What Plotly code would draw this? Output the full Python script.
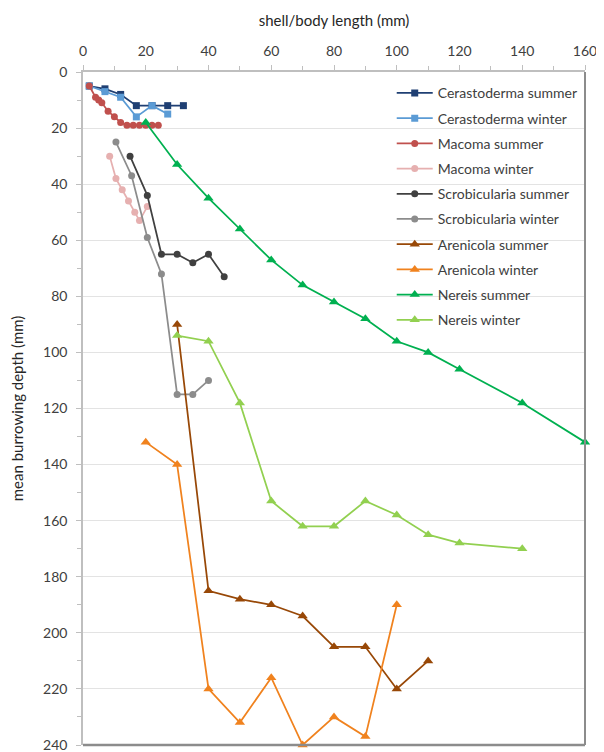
import plotly.graph_objects as go

# ---- data ----
cer_s_x = [2, 7, 12, 17, 22, 27, 32]
cer_s_y = [5, 6, 8, 12, 12, 12, 12]
cer_w_x = [2, 7, 12, 17, 22, 27]
cer_w_y = [5, 7, 9, 16, 12, 15]
mac_s_x = [2, 4, 5, 6, 8, 10, 12, 14, 16, 18, 20, 22, 24]
mac_s_y = [5, 9, 10, 11, 14, 16, 18, 19, 19, 19, 19, 19, 19]
mac_w_x = [8.5, 10.5, 12.5, 14.5, 16.5, 18, 20.5]
mac_w_y = [30, 38, 42, 46, 50, 53, 48]
scr_s_x = [15, 20.5, 25, 30, 35, 40, 45]
scr_s_y = [30, 44, 65, 65, 68, 65, 73]
scr_w_x = [10.5, 15.5, 20.5, 25, 30, 35, 40]
scr_w_y = [25, 37, 59, 72, 115, 115, 110]
are_s_x = [30, 40, 50, 60, 70, 80, 90, 100, 110]
are_s_y = [90, 185, 188, 190, 194, 205, 205, 220, 210]
are_w_x = [20, 30, 40, 50, 60, 70, 80, 90, 100]
are_w_y = [132, 140, 220, 232, 216, 240, 230, 237, 190]
ner_s_x = [20, 30, 40, 50, 60, 70, 80, 90, 100, 110, 120, 140, 160]
ner_s_y = [18, 33, 45, 56, 67, 76, 82, 88, 96, 100, 106, 118, 132]
ner_w_x = [30, 40, 50, 60, 70, 80, 90, 100, 110, 120, 140]
ner_w_y = [94, 96, 118, 153, 162, 162, 153, 158, 165, 168, 170]

series = [
    ("Cerastoderma summer", cer_s_x, cer_s_y, "#1f3f73", "square", 7),
    ("Cerastoderma winter", cer_w_x, cer_w_y, "#5b9bd5", "square", 7),
    ("Macoma summer", mac_s_x, mac_s_y, "#c0504d", "circle", 7),
    ("Macoma winter", mac_w_x, mac_w_y, "#e6b0b0", "circle", 7),
    ("Scrobicularia summer", scr_s_x, scr_s_y, "#404040", "circle", 7),
    ("Scrobicularia winter", scr_w_x, scr_w_y, "#8c8c8c", "circle", 7),
    ("Arenicola summer", are_s_x, are_s_y, "#984807", "triangle-up", 9),
    ("Arenicola winter", are_w_x, are_w_y, "#f0821e", "triangle-up", 9),
    ("Nereis summer", ner_s_x, ner_s_y, "#00b050", "triangle-up", 9),
    ("Nereis winter", ner_w_x, ner_w_y, "#92d050", "triangle-up", 9),
]

FONT = "Lato"
fig = go.Figure()
for i, (name, xs, ys, col, sym, sz) in enumerate(series):
    fig.add_trace(go.Scatter(
        x=xs, y=ys, name=name, mode="lines+markers",
        line=dict(color=col, width=1.75),
        marker=dict(symbol=sym, size=sz, color=col),
        legendgroup=f"g{i}",
        cliponaxis=False,
    ))

# page body has an 8px default margin: figure is 596x744 placed at (8,8)
fig.update_layout(
    width=596, height=744,
    margin=dict(l=75, r=17, t=64, b=7),
    paper_bgcolor="white", plot_bgcolor="white",
    font=dict(family=FONT, color="#404040", size=14),
    showlegend=True,
    legend=dict(
        x=0.615, y=0.992, xanchor="left", yanchor="top",
        bgcolor="rgba(0,0,0,0)", font=dict(size=14, family=FONT, color="#404040"),
        tracegroupgap=4, itemwidth=36,
    ),
    xaxis=dict(
        side="top", range=[0, 160], dtick=20, tick0=0,
        showgrid=False, zeroline=False,
        showline=True, linecolor="#bfbfbf", linewidth=1.5,
        ticks="outside", ticklen=5, tickcolor="#bfbfbf",
        ticklabelstandoff=4, ticklabeloverflow="allow",
        minor=dict(dtick=10, ticks="outside", ticklen=4, tickcolor="#bfbfbf"),
        title=dict(text="shell/body length (mm)", font=dict(size=15, color="#262626"), standoff=11),
        tickfont=dict(size=14, color="#404040"),
    ),
    yaxis=dict(
        range=[240, 0], dtick=20, tick0=0, automargin=False,
        showgrid=True, gridcolor="#e3e3e3", gridwidth=1.2, zeroline=False,
        showline=True, linecolor="#bfbfbf", linewidth=1.5,
        ticks="outside", ticklen=5, tickcolor="#bfbfbf",
        ticklabelstandoff=6, ticklabeloverflow="allow",
        minor=dict(dtick=10, ticks="outside", ticklen=4, tickcolor="#bfbfbf", showgrid=False),
        title=dict(text="mean burrowing depth (mm)", font=dict(size=15, color="#262626"), standoff=16),
        tickfont=dict(size=14, color="#404040"),
    ),
)

# frame border (bottom and right), darker like the reference
fig.add_shape(type="line", xref="x domain", yref="y domain", x0=0, x1=1, y0=0, y1=0,
              line=dict(color="#8c8c8c", width=2.5), layer="above")
fig.add_shape(type="line", xref="x domain", yref="y domain", x0=1, x1=1, y0=0, y1=1,
              line=dict(color="#8c8c8c", width=2), layer="above")

fig.write_html(
    "out.html",
    config={"displayModeBar": False},
    post_script="document.documentElement.style.overflow='hidden';document.body.style.overflow='hidden';",
)
